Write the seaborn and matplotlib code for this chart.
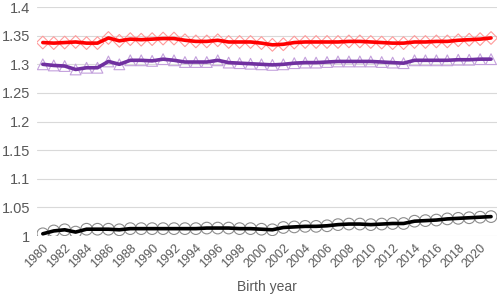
import numpy as np
import pandas as pd
import seaborn as sns
import matplotlib.pyplot as plt

years = list(range(1980, 2022))

red_vals = [1.338, 1.337, 1.338, 1.339, 1.337, 1.337, 1.346, 1.341, 1.344, 1.343,
            1.344, 1.345, 1.345, 1.342, 1.340, 1.340, 1.342, 1.339, 1.339, 1.339,
            1.337, 1.334, 1.335, 1.338, 1.339, 1.339, 1.339, 1.339, 1.340, 1.340,
            1.339, 1.338, 1.337, 1.337, 1.339, 1.339, 1.340, 1.340, 1.342, 1.343,
            1.344, 1.346]
purple_vals = [1.300, 1.298, 1.297, 1.291, 1.294, 1.294, 1.305, 1.300, 1.307, 1.307,
               1.306, 1.309, 1.307, 1.304, 1.304, 1.304, 1.307, 1.303, 1.302, 1.301,
               1.300, 1.299, 1.300, 1.302, 1.303, 1.303, 1.304, 1.305, 1.305, 1.305,
               1.305, 1.304, 1.303, 1.302, 1.307, 1.307, 1.307, 1.307, 1.308, 1.308,
               1.309, 1.309]
black_vals = [1.004, 1.009, 1.011, 1.007, 1.012, 1.012, 1.012, 1.011, 1.013, 1.013,
              1.013, 1.013, 1.013, 1.013, 1.013, 1.014, 1.014, 1.014, 1.013, 1.013,
              1.012, 1.011, 1.015, 1.016, 1.017, 1.017, 1.018, 1.020, 1.021, 1.021,
              1.020, 1.021, 1.022, 1.022, 1.026, 1.027, 1.028, 1.030, 1.031, 1.032,
              1.033, 1.034]

yticks = [1, 1.05, 1.1, 1.15, 1.2, 1.25, 1.3, 1.35, 1.4]
ytick_labels = ['1', '1.05', '1.1', '1.15', '1.2', '1.25', '1.3', '1.35', '1.4']

sns.set_style('white')
plt.rcParams['font.family'] = ['Liberation Sans', 'DejaVu Sans']

fig = plt.figure(figsize=(4.98, 2.94), dpi=100)
ax = fig.add_axes([0.075, 0.197, 0.922, 0.779])

series = [
    (red_vals, '#ff0000', '#ff9a9a', 'D', 42),
    (purple_vals, '#7030a0', '#c3a0dc', '^', 60),
    (black_vals, '#000000', '#8c8c8c', 'o', 70),
]
for vals, lc, mc, mk, sz in series:
    df = pd.DataFrame({'year': years, 'val': vals})
    sns.scatterplot(data=df, x='year', y='val', marker=mk, s=sz, facecolor='none',
                    edgecolor=mc, linewidth=0.8, ax=ax, zorder=2)
    sns.lineplot(data=df, x='year', y='val', color=lc, linewidth=2.6, ax=ax, zorder=3)

ax.set_xlim(1979.5, 2021.5)
ax.set_ylim(1, 1.4)
ax.set_yticks(yticks)
ax.set_yticklabels(ytick_labels)
ax.set_xticks(years[::2])
ax.set_xticklabels([str(y) for y in years[::2]], rotation=45, ha='right',
                   rotation_mode='anchor')
ax.tick_params(axis='y', labelsize=10.5, colors='#595959', length=0, pad=5)
ax.tick_params(axis='x', labelsize=9, colors='#595959', length=0, pad=4)
ax.yaxis.grid(True, color='#d9d9d9', linewidth=0.8)
ax.set_axisbelow(True)
for s in ax.spines.values():
    s.set_visible(False)
ax.set_xlabel('Birth year', fontsize=10, color='#595959', labelpad=7)
ax.set_ylabel('')

fig.savefig('out.png', dpi=100)
